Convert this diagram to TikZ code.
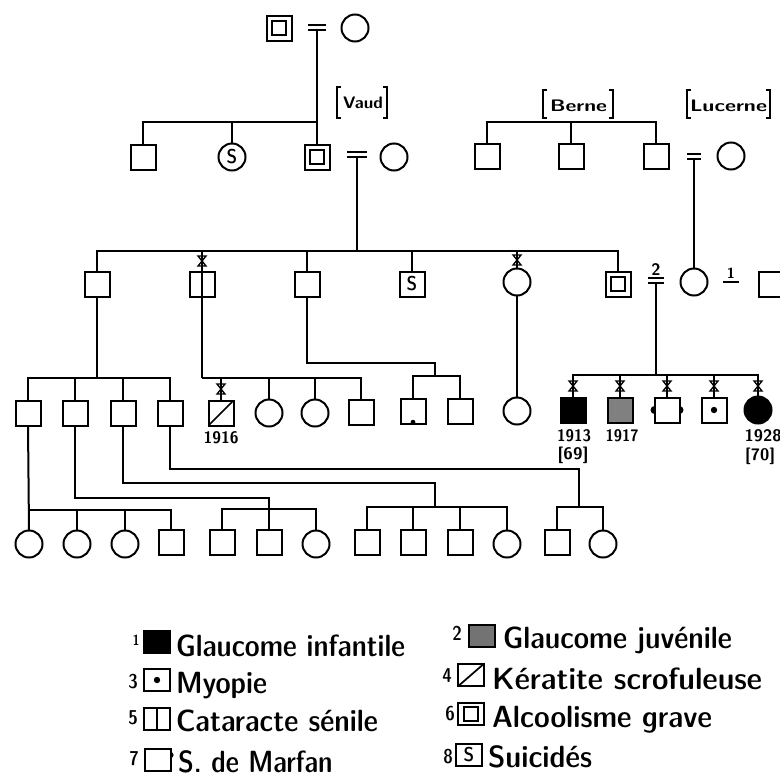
\documentclass[tikz,border=0pt]{standalone}
\usepackage{graphicx}
\usetikzlibrary{calc}

% text fitted to a given width (in pt), natural height kept
\newcommand\fitw[2]{\resizebox{#1pt}{\height}{#2}}
\newcommand\lgfont{\fontsize{23}{26}\fontseries{sbc}\selectfont\sffamily}
\newcommand\smfont{\fontsize{12.5}{14}\selectfont\sffamily\bfseries}
\newcommand\numfont{\fontsize{15}{17}\fontseries{sbc}\selectfont\sffamily}
% marriage sign: two short bars above a descent point
\newcommand\marr[2]{\draw[line width=1.3pt] (#1) ++(-#2,-5) -- ++(2*#2,0) (#1) ++(-#2,0) -- ++(2*#2,0);}

\begin{document}
\begin{tikzpicture}[x=0.75pt,y=-0.75pt,line width=1.5pt,
  every node/.style={inner sep=0pt,outer sep=0pt},
  sq/.style={draw,rectangle,minimum size=18.75pt},
  ci/.style={draw,circle,minimum size=20.25pt},
  dsq/.style={sq,path picture={\draw[line width=1.5pt]
      ([shift={(-5.5pt,-5.5pt)}]path picture bounding box.center) rectangle
      ([shift={(5.5pt,5.5pt)}]path picture bounding box.center);}},
  dotc/.style={path picture={\fill (path picture bounding box.center) circle[radius=2.4pt];}},
  slash/.style={path picture={\draw[line width=1.3pt] (path picture bounding box.south west) -- (path picture bounding box.north east);}},
  vbar/.style={path picture={\draw (path picture bounding box.north) -- (path picture bounding box.south);}},
  lgbox/.style={draw,rectangle,minimum width=19pt,minimum height=16.5pt},
  xmk/.pic={\draw[line width=1pt] (-4,-5) -- (4,-5) -- (-4,5) -- (4,5) -- cycle;},
  lgtxt/.style={anchor=base west,font=\lgfont},
  yr/.style={font=\smfont}
]
\useasboundingbox (0,0) rectangle (780,778);
\clip (0,0) rectangle (780,778);
\fill[white] (0,0) rectangle (780,778);

% ---------------- generation I
\node[dsq] (I1) at (279,28) {};
\node[ci] (I2) at (355,28) {};
\coordinate (m1) at (317,30);
\marr{m1}{9}

% ---------------- generation II
\node[sq] (II1) at (143,157) {};
\node[ci,font=\numfont] (II2) at (232,157) {S};
\node[dsq] (II3) at (317,157) {};
\node[ci] (II4) at (394,157) {};
\coordinate (m2) at (357,157);
\marr{m2}{10}
\coordinate (s1) at (317,122);
\draw (m1) -- (II3.north);
\draw (II1.north) |- (s1);
\draw (II2.north) -- (II2.north |- s1);

\node[sq] (B1) at (487,156) {};
\node[sq] (B2) at (571,156) {};
\node[sq] (B3) at (656,156) {};
\coordinate (sB) at (571,122);
\draw (B1.north) |- (sB) -| (B3.north);
\draw (B2.north) -- (sB);
\node[ci] (Lu) at (731,156) {};
\coordinate (m3) at (694,159);
\marr{m3}{7}

% place names
\node[font=\smfont] (vaud) at (363,103) {\fitw{30}{Vaud}};
\draw[line width=1.3pt] (341,87) -- (337,87) -- (337,118) -- (341,118)
                        (383,87) -- (387,87) -- (387,118) -- (383,118);
\node[font=\smfont] (berne) at (578.5,106) {\fitw{42.75}{Berne}};
\draw[line width=1.3pt] (547,90) -- (543,90) -- (543,118) -- (547,118)
                        (609,90) -- (613,90) -- (613,118) -- (609,118);
\node[font=\smfont] (lucerne) at (728.5,106) {\fitw{57.75}{Lucerne}};
\draw[line width=1.3pt] (691,90) -- (687,90) -- (687,118) -- (691,118)
                        (766,90) -- (770,90) -- (770,118) -- (766,118);

% ---------------- generation III
\node[sq] (III1) at (97,284) {};
\node[sq] (III2) at (202,284) {};
\node[sq] (III3) at (307,284) {};
\node[sq,font=\numfont] (III4) at (412,284) {S};
\node[ci] (III5) at (517,282) {};
\node[dsq] (III6) at (618,284) {};
\node[ci] (III7) at (694,282) {};
\node[sq] (III8) at (771,284) {};
\coordinate (s3) at (357,251);
\draw (m2) -- (s3);
\draw (III1.north) |- (s3) -| (III6.north);
\draw (III3.north) -- (III3.north |- s3);
\draw (III4.north) -- (III4.north |- s3);
\draw (III5.north) -- (III5.north |- s3);
\draw (m3) -- (III7.north);
\coordinate (m4) at (656,283);
\marr{m4}{8}
\node[font=\smfont] (n2) at (656,270) {2};
\coordinate (m5) at (731,282);
\draw[line width=1.3pt] (m5) ++(-8,0) -- ++(16,0);
\node[font=\fontsize{11}{12}\selectfont\sffamily\bfseries] (n1) at (731,273) {1};

% ---------------- generation IV
\node[sq] (IVa1) at (28,413) {};
\node[sq] (IVa2) at (75,413) {};
\node[sq] (IVa3) at (123,413) {};
\node[sq] (IVa4) at (170,413) {};
\coordinate (s4a) at (97,378);
\draw (III1.south) -- (s4a);
\draw (IVa1.north) |- (s4a) -| (IVa4.north);
\draw (IVa2.north) -- (IVa2.north |- s4a);
\draw (IVa3.north) -- (IVa3.north |- s4a);

\node[sq,slash] (IVb1) at (221,413) {};
\node[ci] (IVb2) at (269,413) {};
\node[ci] (IVb3) at (315,413) {};
\node[sq] (IVb4) at (361,412) {};
\coordinate (s4b) at (202,378);
\coordinate (t3) at (202,251);
\draw (t3) -- (s4b);
\draw (s4b) -| (IVb4.north);
\draw (IVb1.north) -- (IVb1.north |- s4b);
\draw (IVb2.north) -- (IVb2.north |- s4b);
\draw (IVb3.north) -- (IVb3.north |- s4b);

\node[sq] (IVc1) at (413,411) {};
\node[sq] (IVc2) at (460,411) {};
\coordinate (jc) at (435,363);
\coordinate (s4c) at (435,376);
\draw (III3.south) |- (jc) -- (s4c);
\draw (IVc1.north) |- (s4c) -| (IVc2.north);
\fill ([yshift=1pt]IVc1.south) circle[radius=1.8pt];

\node[ci] (IVd1) at (517,411) {};
\draw (III5.south) -- (IVd1.north);

\node[sq,fill=black] (IVe1) at (573,410) {};
\node[sq,fill=black!50,dotc] (IVe2) at (620,410) {};
\node[sq] (IVe3) at (667,410) {};
\fill (IVe3.west) circle[radius=3pt] (IVe3.east) circle[radius=3pt];
\node[sq,dotc,fill=white] (IVe3b) at (IVe3) {};
\node[sq,dotc] (IVe4) at (714,410) {};
\node[ci,fill=black] (IVe5) at (758,410) {};
\coordinate (s4e) at (656,375);
\draw (m4) -- (s4e);
\draw (IVe1.north) |- (s4e) -| (IVe5.north);
\draw (IVe2.north) -- (IVe2.north |- s4e);
\draw (IVe3.north) -- (IVe3.north |- s4e);
\draw (IVe4.north) -- (IVe4.north |- s4e);

% deceased marks
\pic at (202,261) {xmk};
\pic at (517,260) {xmk};
\pic at (221,389) {xmk};
\foreach \xx in {573,620,667,714,758} {\pic at (\xx,386) {xmk};}

% years
\node[yr] (y1916) at (221,438) {\fitw{26.25}{1916}};
\node[yr] (y1913) at (574,436) {\fitw{25.5}{1913}};
\node[yr] (a69) at (573,455) {\fitw{23.25}{[69]}};
\node[yr] (y1917) at (622,436) {\fitw{24.75}{1917}};
\node[yr] (y1928) at (763,436) {\fitw{27.75}{1928}};
\node[yr] (a70) at (760,456) {\fitw{22.5}{[70]}};

% ---------------- generation V
\node[ci] (V1) at (29,544) {};
\node[ci] (V2) at (77,544) {};
\node[ci] (V3) at (125,544) {};
\node[sq] (V4) at (171,542) {};
\node[sq] (V5) at (222,542) {};
\node[sq] (V6) at (269,542) {};
\node[ci] (V7) at (316,544) {};
\node[sq] (V8) at (367,542) {};
\node[sq] (V9) at (413,542) {};
\node[sq] (V10) at (460,542) {};
\node[ci] (V11) at (507,544) {};
\node[sq] (V12) at (557,542) {};
\node[ci] (V13) at (603,544) {};

\coordinate (s5a) at (28,510);
\draw (IVa1.south) -- (V1.north);
\draw (s5a) -| (V4.north);
\draw (V2.north) -- (V2.north |- s5a);
\draw (V3.north) -- (V3.north |- s5a);

\coordinate (j5b) at (269,498);
\coordinate (s5b) at (269,509);
\draw (IVa2.south) |- (j5b) -- (V6.north);
\draw (V5.north) |- (s5b) -| (V7.north);

\coordinate (j5c) at (435,483);
\coordinate (s5c) at (435,507);
\draw (IVa3.south) |- (j5c) -- (s5c);
\draw (V8.north) |- (s5c) -| (V11.north);
\draw (V9.north) -- (V9.north |- s5c);
\draw (V10.north) -- (V10.north |- s5c);

\coordinate (j5d) at (579,469);
\coordinate (s5d) at (579,507);
\draw (IVa4.south) |- (j5d) -- (s5d);
\draw (V12.north) |- (s5d) -| (V13.north);

% ---------------- legend
\node[font=\fontsize{11}{12}\fontseries{sbc}\selectfont\sffamily] (k1) at (136,640) {1};
\node[lgbox,fill=black] (L1) at (157,642) {};
\node[lgtxt] (t1) at (176,656) {\fitw{171.75}{Glaucome infantile}};

\node[font=\numfont] (k3) at (133,682) {3};
\node[lgbox,dotc] (L3) at (157,680) {};
\node[lgtxt] (t3x) at (176,693) {\fitw{68.25}{Myopie}};

\node[font=\numfont] (k5) at (133,718) {5};
\node[lgbox,vbar] (L5) at (157,719) {};
\node[lgtxt] (t5) at (176,731) {\fitw{151.5}{Cataracte sénile}};

\node[font=\numfont] (k7) at (134,759) {7};
\node[lgbox] (L7) at (158,760) {};
\fill ($(L7.north east)+(0,6)$) circle[radius=2.2pt];
\node[lgbox,fill=white] (L7b) at (L7) {};
\node[lgtxt] (t7) at (178,772) {\fitw{116}{S. de Marfan}};

\node[font=\numfont] (k2) at (457,633) {2};
\node[lgbox,fill=black!55] (R2) at (482,636) {};
\node[lgtxt] (t2) at (503,648) {\fitw{171.75}{Glaucome juvénile}};

\node[font=\numfont] (k4) at (447,676) {4};
\node[lgbox,slash] (R4) at (471,675) {};
\node[lgtxt] (t4) at (492,689) {\fitw{202.5}{Kératite scrofuleuse}};

\node[font=\numfont] (k6) at (450,714) {6};
\node[lgbox,dsq,minimum size=0pt,minimum width=19pt,minimum height=16.5pt] (R6) at (471,714) {};
\node[lgtxt] (t6) at (492,727) {\fitw{165}{Alcoolisme grave}};

\node[font=\numfont] (k8) at (448,757) {8};
\node[lgbox,font=\numfont] (R8) at (469,755) {S};
\node[lgtxt] (t8) at (488,767) {\fitw{78}{Suicidés}};
\end{tikzpicture}
\end{document}
